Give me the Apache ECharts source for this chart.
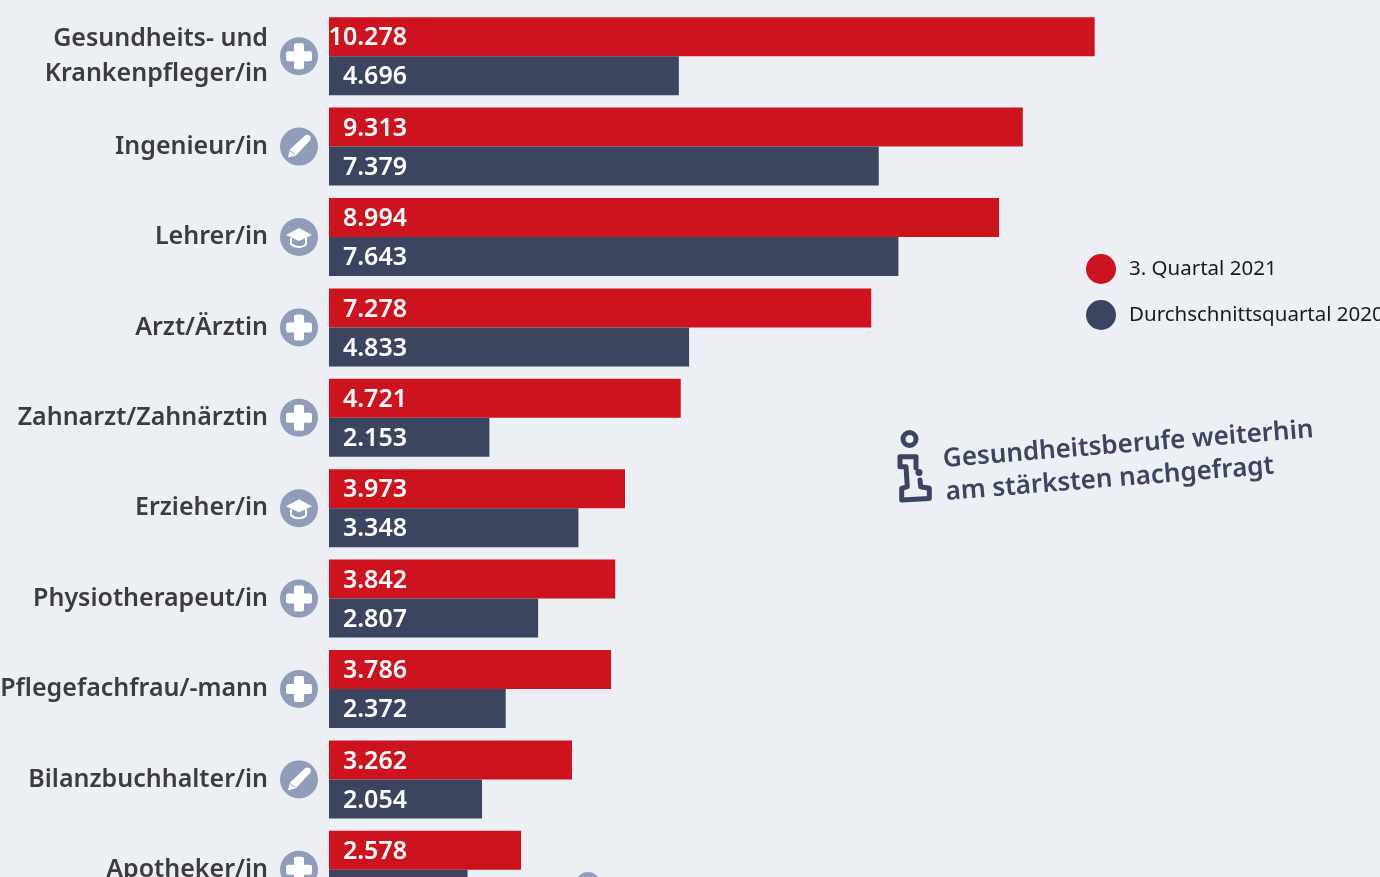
<!DOCTYPE html>
<html lang="de">
<head>
  <meta charset="UTF-8">
  <title>Berufe</title>
  <script src="https://cdn.jsdelivr.net/npm/echarts@6/dist/echarts.min.js"></script>
  <style>
    html, body { margin: 0; padding: 0; background: #eceff4; overflow: hidden; }
    #chart { width: 1380px; height: 877px; }
  </style>
</head>
<body>
  <div id="chart"></div>
  <script>
    var categories = [
      'Gesundheits- und\nKrankenpfleger/in', 'Ingenieur/in', 'Lehrer/in', 'Arzt/Ärztin',
      'Zahnarzt/Zahnärztin', 'Erzieher/in', 'Physiotherapeut/in', 'Pflegefachfrau/-mann',
      'Bilanzbuchhalter/in', 'Apotheker/in'
    ];
    var q3_2021 = [10278, 9313, 8994, 7278, 4721, 3973, 3842, 3786, 3262, 2578];
    // last value is cut off in the picture
    var avg_2020 = [4696, 7379, 7643, 4833, 2153, 3348, 2807, 2372, 2054, 1860];
    var iconTypes = ['plus', 'pen', 'cap', 'plus', 'plus', 'cap', 'plus', 'plus', 'pen', 'plus'];

    var RED = '#cd131e';
    var NAVY = '#3c4560';
    var ICON = '#919cb8';

    var chart = echarts.init(document.getElementById('chart'));

    var valueLabel = {
      show: true,
      position: [78, 21],
      align: 'right',
      verticalAlign: 'middle',
      color: '#fff',
      fontFamily: 'Noto Sans',
      fontSize: 25,
      fontWeight: 600,
      formatter: function (p) {
        return echarts.format.addCommas(p.value).replace(/,/g, '.');
      }
    };

    // small circle with a white glyph left of the axis
    function renderIcon(params, api) {
      var p = api.coord([0, api.value(1)]);
      var cx = p[0] - 30, cy = p[1];
      var type = iconTypes[params.dataIndex];
      var kids = [{ type: 'circle', shape: { cx: cx, cy: cy, r: 19 }, style: { fill: ICON } }];
      if (type === 'plus') {
        kids.push({ type: 'rect', shape: { x: cx - 13, y: cy - 5, width: 26, height: 10, r: 2 }, style: { fill: '#fff' } });
        kids.push({ type: 'rect', shape: { x: cx - 5, y: cy - 13, width: 10, height: 26, r: 2 }, style: { fill: '#fff' } });
      } else if (type === 'pen') {
        kids.push({
          type: 'path',
          shape: { pathData: 'M -11 11 L -9 3 L 6 -11 C 8 -13 11 -12 12 -10 C 13 -8 12 -7 11 -6 L -3 9 Z', x: cx - 11, y: cy - 12, width: 23, height: 23 },
          style: { fill: '#fff' }
        });
        kids.push({
          type: 'line',
          shape: { x1: cx - 9, y1: cy + 4, x2: cx - 4, y2: cy + 8 },
          style: { stroke: ICON, lineWidth: 1 }
        });
      } else {
        kids.push({
          type: 'polygon',
          shape: { points: [[cx - 13, cy - 2], [cx, cy - 9], [cx + 13, cy - 2], [cx, cy + 4]] },
          style: { fill: '#fff' }
        });
        kids.push({
          type: 'path',
          shape: { pathData: 'M -8 0 L -8 6 C -4 10 4 10 7 6 L 7 0', x: cx - 8, y: cy + 1, width: 15, height: 9 },
          style: { fill: 'none', stroke: '#fff', lineWidth: 2 }
        });
      }
      return { type: 'group', children: kids };
    }

    chart.setOption({
      backgroundColor: '#eceff4',
      animation: false,
      grid: { left: 329, top: 11, width: 1043, height: 904, outerBoundsMode: 'none' },
      legend: {
        orient: 'vertical',
        left: 1081,
        top: 249,
        itemWidth: 30,
        itemHeight: 30,
        itemGap: 16,
        icon: 'circle',
        data: ['3. Quartal 2021', 'Durchschnittsquartal 2020'],
        textStyle: { fontFamily: 'Noto Sans', fontSize: 20.5, color: '#1a1a1a', padding: [2, 0, 0, 8] }
      },
      xAxis: { type: 'value', min: 0, max: 14000, show: false },
      yAxis: {
        type: 'category',
        data: categories,
        inverse: true,
        axisLine: { show: false },
        axisTick: { show: false },
        axisLabel: {
          margin: 61,
          padding: [2, 0, 0, 0],
          color: '#3c3c3c',
          fontFamily: 'Noto Sans',
          fontSize: 25,
          fontWeight: 600,
          lineHeight: 35,
          align: 'right'
        }
      },
      series: [
        {
          name: '3. Quartal 2021', type: 'bar', data: q3_2021, barWidth: 39, barGap: 0,
          itemStyle: { color: RED }, label: valueLabel
        },
        {
          name: 'Durchschnittsquartal 2020', type: 'bar', data: avg_2020, barWidth: 39, barGap: 0,
          itemStyle: { color: NAVY }, label: valueLabel
        },
        {
          type: 'custom', renderItem: renderIcon, clip: false, silent: true, z: 5,
          encode: { x: 0, y: 1 },
          data: categories.map(function (c, i) { return [0, i]; })
        }
      ],
      graphic: [
        {
          type: 'text',
          x: 947, y: 509,
          rotation: 4.6 * Math.PI / 180,
          style: {
            text: 'Gesundheitsberufe weiterhin\nam stärksten nachgefragt',
            fill: NAVY,
            fontFamily: 'Noto Sans',
            fontSize: 26,
            fontWeight: 600,
            lineHeight: 33,
            textVerticalAlign: 'bottom'
          }
        },
        {
          type: 'group', x: 897, y: 431,
          children: [
            { type: 'circle', shape: { cx: 12.5, cy: 8, r: 6.5 }, style: { fill: 'none', stroke: NAVY, lineWidth: 5 } },
            { type: 'circle', shape: { cx: 22, cy: 41.5, r: 3.5 }, style: { fill: NAVY } },
            {
              type: 'polyline',
              shape: { points: [[19, 37], [19, 25.7], [3, 25.7], [3, 35.7], [9, 35.7], [10.3, 55.7], [4.7, 57.3], [4.7, 69], [32.3, 67.5], [32.3, 57.3], [23.7, 55.7], [23, 49]] },
              style: { fill: 'none', stroke: NAVY, lineWidth: 5, lineJoin: 'round', lineCap: 'round' }
            }
          ]
        },
        // top of a round badge cut off by the lower edge
        { type: 'circle', shape: { cx: 588, cy: 884.5, r: 12.5 }, style: { fill: ICON } }
      ]
    });
  </script>
</body>
</html>
